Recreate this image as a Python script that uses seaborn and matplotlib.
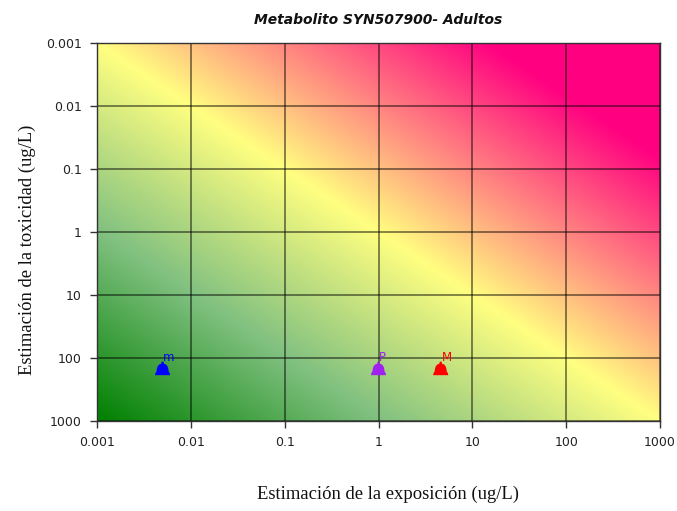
import numpy as np
import pandas as pd
import matplotlib
matplotlib.use("Agg")
import matplotlib.pyplot as plt
from matplotlib.colors import LinearSegmentedColormap
from matplotlib.path import Path
import seaborn as sns

# Data
labels = ["m", "P", "M"]
exposure = [0.005, 1.0, 4.6]
toxicity = [150.0, 150.0, 150.0]
point_colors = ["#0000FF", "#A020F0", "#FF0000"]
tick_values = [0.001, 0.01, 0.1, 1, 10, 100, 1000]
tick_labels = ["0.001", "0.01", "0.1", "1", "10", "100", "1000"]

sns.set_theme(style="white")
plt.rcParams["font.family"] = ["DejaVu Sans"]

fig = plt.figure(figsize=(6.77, 5.11), dpi=100)
ax = fig.add_axes([97 / 677, 1 - 421 / 511, (660 - 97) / 677, (421 - 43) / 511])

# Diagonal risk background: green (low risk) -> yellow -> magenta (high risk)
risk_cmap = LinearSegmentedColormap.from_list(
    "risk",
    [(0.0, (0 / 255, 128 / 255, 0)),
     (0.25, (128 / 255, 192 / 255, 128 / 255)),
     (0.5, (1.0, 1.0, 128 / 255)),
     (0.85, (1.0, 0.0, 128 / 255)),
     (1.0, (1.0, 0.0, 128 / 255))],
)
u = np.linspace(0, 1, 600)
v = np.linspace(0, 1, 400)
U, V = np.meshgrid(u, v)
T = (U + V) / 2
ax.imshow(T, cmap=risk_cmap, vmin=0, vmax=1, origin="lower",
          extent=(0, 1, 0, 1), transform=ax.transAxes, aspect="auto",
          interpolation="bilinear", zorder=0)

ax.set_xscale("log")
ax.set_yscale("log")
ax.set_xlim(0.001, 1000)
ax.set_ylim(1000, 0.001)

# Bell-shaped marker: small knob on a rounded dome with a flared rim
half = [(0.0, 1.0), (0.14, 0.95), (0.16, 0.72), (0.42, 0.62), (0.62, 0.42),
        (0.74, 0.1), (0.8, -0.3), (0.95, -0.55), (1.0, -0.8)]
outline = half + [(-x, y) for x, y in reversed(half[1:])] + [(0.0, 1.0)]
bell = Path(outline, closed=True)

df = pd.DataFrame({"label": labels, "exposure": exposure, "toxicity": toxicity})
sns.scatterplot(data=df, x="exposure", y="toxicity", hue="label",
                palette=dict(zip(labels, point_colors)), marker=bell, s=120,
                linewidth=0, legend=False, ax=ax, zorder=5)
for lab, xv, yv, c in zip(labels, exposure, toxicity, point_colors):
    ax.annotate(lab, (xv, yv), xytext=(0.5, 3.5), textcoords="offset points",
                color=c, fontsize=8.5, ha="left", va="bottom", zorder=6)

ax.set_xticks(tick_values)
ax.set_xticklabels(tick_labels)
ax.set_yticks(tick_values)
ax.set_yticklabels(tick_labels)
ax.minorticks_off()
ax.tick_params(axis="both", which="major", length=5, width=1, color="#333333",
               labelsize=9, labelcolor="#222222", direction="out",
               bottom=True, left=True, pad=6)
ax.grid(True, color="black", alpha=0.6, linewidth=1.1)
for sp in ax.spines.values():
    sp.set_color("#333333")
    sp.set_linewidth(1.0)
ax.set_xlabel("")
ax.set_ylabel("")

fig.text(378 / 677, 1 - 20 / 511, "Metabolito SYN507900- Adultos", ha="center",
         va="center", fontsize=10, fontweight="bold", fontstyle="italic", color="#111111")
fig.text(388 / 677, 1 - 494 / 511, "Estimación de la exposición (ug/L)", ha="center",
         va="center", fontsize=13.4, family=["Liberation Serif"], color="#111111")
fig.text(27 / 677, 1 - 250 / 511, "Estimación de la toxicidad (ug/L)", ha="center",
         va="center", rotation=90, fontsize=13.4, family=["Liberation Serif"], color="#111111")

fig.savefig("out.png", dpi=100)
